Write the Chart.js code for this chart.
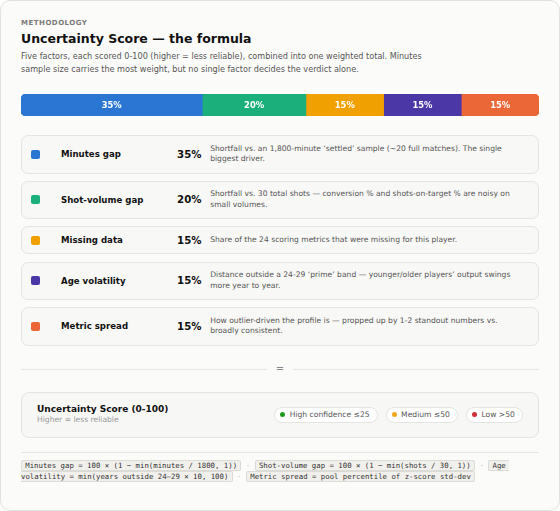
<!DOCTYPE html>
<html><head><meta charset="utf-8">
<script src="https://cdn.jsdelivr.net/npm/chart.js@4.4.1/dist/chart.umd.min.js"></script>
<style>
html,body{margin:0;padding:0;background:#ffffff;}
body{width:560px;height:511px;overflow:hidden;font-family:"DejaVu Sans",sans-serif;}
.card{box-sizing:border-box;width:560px;height:511px;border:1px solid #e2e2df;border-radius:10px;background:#fbfbf9;padding:18px 20px 0 20px;}
.eyebrow{font-size:7px;line-height:9px;font-weight:bold;letter-spacing:0.5px;color:#7a7a7a;}
h1{margin:3.3px 0 0;font-size:12.5px;line-height:16px;color:#111;font-weight:bold;}
.sub{margin:2.3px 0 0;font-size:8.1px;line-height:13px;color:#555;max-width:430px;}
.barwrap{margin-top:18.3px;height:22px;width:518px;position:relative;}
.rows{margin-top:19.3px;}
.row{box-sizing:border-box;display:flex;align-items:center;border:1px solid #e4e4e1;border-radius:7px;background:#f8f8f6;padding:7.5px 12px 7.5px 9px;margin-bottom:7.2px;}
.row:last-child{margin-bottom:0;}
.mk{width:9px;height:9px;border-radius:2px;flex:none;}
.nm{flex:none;width:107px;margin-left:21px;font-size:8.6px;font-weight:bold;color:#111;}
.pc{flex:none;width:33.5px;text-align:right;font-size:10.2px;font-weight:bold;color:#111;}
.ds{flex:1;margin-left:8.7px;font-size:7.6px;line-height:10.7px;color:#555;}
.divider{margin-top:17.5px;height:12px;display:flex;align-items:center;}
.divider .ln{flex:1;height:1px;background:#e6e6e3;}
.divider .eq{font-size:10px;line-height:12px;color:#888;margin:0 8.5px;}
.summary{box-sizing:border-box;margin-top:17.1px;height:45.6px;border:1px solid #e3e3e0;border-radius:8px;background:#f7f7f5;display:flex;align-items:center;justify-content:space-between;padding:0 14.7px 0 15px;}
.st{font-size:9px;line-height:11px;font-weight:bold;color:#111;}
.ss{font-size:7.6px;line-height:10.4px;color:#9a9a9a;}
.pills{display:flex;gap:7.5px;}
.pill{box-sizing:border-box;height:16px;display:inline-flex;align-items:center;border:1px solid #e4e4e1;border-radius:8px;background:#fff;padding:0 7.5px 0 5px;font-size:7.6px;color:#555;white-space:nowrap;}
.dot{width:5px;height:5px;border-radius:50%;margin-right:4.5px;flex:none;}
.hr{margin-top:14px;height:1px;background:#e6e6e3;}
.code{margin-top:7.7px;font-family:"DejaVu Sans Mono",monospace;font-size:7.33px;line-height:11px;color:#333;}
.code code{font-family:inherit;background:#f1f0ec;border:1px solid #dcdcd7;border-radius:2px;padding:0 3.3px;}
.code code.head{border-right:none;border-radius:2px 0 0 2px;}
.code code.tail{border-left:none;border-radius:0 2px 2px 0;padding-left:0;}
.code .sep{color:#c4c4c0;}
</style></head>
<body>
<div class="card">
  <div class="eyebrow">METHODOLOGY</div>
  <h1>Uncertainty Score — the formula</h1>
  <div class="sub">Five factors, each scored 0-100 (higher = less reliable), combined into one weighted total. Minutes sample size carries the most weight, but no single factor decides the verdict alone.</div>
  <div class="barwrap"><canvas id="bar"></canvas></div>
  <div class="rows" id="rows"></div>
  <div class="divider"><div class="ln"></div><div class="eq">=</div><div class="ln"></div></div>
  <div class="summary">
    <div><div class="st">Uncertainty Score (0-100)</div><div class="ss">Higher = less reliable</div></div>
    <div class="pills" id="pills"></div>
  </div>
  <div class="hr"></div>
  <div class="code" id="code"></div>
</div>
<script>
const factors = ["Minutes gap", "Shot-volume gap", "Missing data", "Age volatility", "Metric spread"];
const weights = [35, 20, 15, 15, 15];
const descriptions = [
  "Shortfall vs. an 1,800-minute \u2018settled\u2019 sample (~20 full matches). The single biggest driver.",
  "Shortfall vs. 30 total shots \u2014 conversion % and shots-on-target % are noisy on small volumes.",
  "Share of the 24 scoring metrics that were missing for this player.",
  "Distance outside a 24-29 \u2018prime\u2019 band \u2014 younger/older players\u2019 output swings more year to year.",
  "How outlier-driven the profile is \u2014 propped up by 1-2 standout numbers vs. broadly consistent."
];
const bands = ["High confidence \u226425", "Medium \u226450", "Low >50"];
const formulas = [
  "Minutes gap = 100 \u00d7 (1 \u2212 min(minutes / 1800, 1))",
  "Shot-volume gap = 100 \u00d7 (1 \u2212 min(shots / 30, 1))",
  "Age volatility = min(years outside 24\u201329 \u00d7 10, 100)",
  "Metric spread = pool percentile of z-score std-dev"
];
const palette = ["#2a76d2", "#1bb07b", "#f0a000", "#4b38a6", "#eb6737"];
const bandColors = ["#1f9a1f", "#f2a81d", "#d0303a"];

// rows
const rowsEl = document.getElementById('rows');
factors.forEach((f, i) => {
  const r = document.createElement('div');
  r.className = 'row';
  r.innerHTML = '<div class="mk" style="background:' + palette[i] + '"></div>' +
    '<div class="nm"></div><div class="pc"></div><div class="ds"></div>';
  r.querySelector('.nm').textContent = f;
  r.querySelector('.pc').textContent = weights[i] + '%';
  r.querySelector('.ds').textContent = descriptions[i];
  rowsEl.appendChild(r);
});
// pills
const pillsEl = document.getElementById('pills');
bands.forEach((b, i) => {
  const p = document.createElement('div');
  p.className = 'pill';
  p.innerHTML = '<span class="dot" style="background:' + bandColors[i] + '"></span><span></span>';
  p.lastChild.textContent = b;
  pillsEl.appendChild(p);
});
// code chips
const codeEl = document.getElementById('code');
formulas.forEach((t, i) => {
  if (i > 0) {
    const s = document.createElement('span');
    s.className = 'sep';
    s.textContent = ' \u00b7 ';
    codeEl.appendChild(s);
  }
  const c = document.createElement('code');
  c.textContent = t;
  codeEl.appendChild(c);
});
// split a chip that wraps over two lines into two separate pieces
codeEl.querySelectorAll('code').forEach(c => {
  if (c.getClientRects().length < 2) return;
  const words = c.textContent.split(' ');
  let k = 1;
  for (let j = 1; j <= words.length; j++) {
    c.textContent = words.slice(0, j).join(' ');
    if (c.getClientRects().length > 1) break;
    k = j;
  }
  c.textContent = words.slice(0, k).join(' ');
  c.classList.add('head');
  const br = document.createElement('br');
  const c2 = document.createElement('code');
  c2.className = 'tail';
  c2.textContent = words.slice(k).join(' ');
  c.after(br);
  br.after(c2);
});

// chart
const segLabels = {
  id: 'segLabels',
  afterDatasetsDraw(chart) {
    const ctx = chart.ctx;
    ctx.save();
    ctx.font = 'bold 8.4px "DejaVu Sans"';
    ctx.fillStyle = '#ffffff';
    ctx.textAlign = 'center';
    ctx.textBaseline = 'middle';
    chart.data.datasets.forEach((ds, i) => {
      const el = chart.getDatasetMeta(i).data[0];
      ctx.fillText(ds.data[0] + '%', (el.x + el.base) / 2, el.y + 0.5);
    });
    ctx.restore();
  }
};
const last = factors.length - 1;
new Chart(document.getElementById('bar'), {
  type: 'bar',
  data: {
    labels: ['Weight'],
    datasets: factors.map((f, i) => ({
      label: f,
      data: [weights[i]],
      backgroundColor: palette[i],
      borderWidth: 0,
      borderSkipped: false,
      borderRadius: i === 0 ? {topLeft: 5, bottomLeft: 5, topRight: 0, bottomRight: 0}
                  : (i === last ? {topLeft: 0, bottomLeft: 0, topRight: 5, bottomRight: 5} : 0),
      barPercentage: 1,
      categoryPercentage: 1
    }))
  },
  options: {
    indexAxis: 'y',
    responsive: true,
    maintainAspectRatio: false,
    animation: false,
    layout: {padding: 0},
    plugins: {legend: {display: false}, tooltip: {enabled: false}},
    scales: {
      x: {stacked: true, min: 0, max: 100, display: false},
      y: {stacked: true, display: false}
    }
  },
  plugins: [segLabels]
});
</script>
</body></html>
